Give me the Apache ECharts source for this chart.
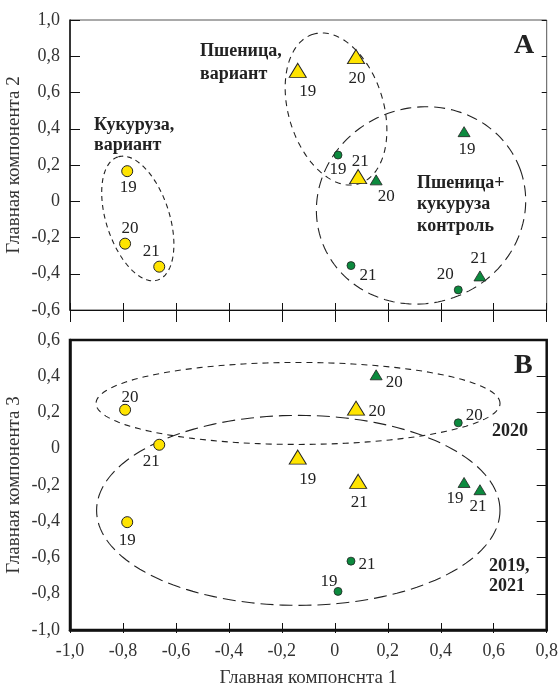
<!DOCTYPE html>
<html>
<head>
<meta charset="utf-8">
<script src="https://cdn.jsdelivr.net/npm/echarts@6/dist/echarts.min.js"></script>
<style>
html,body{margin:0;padding:0;background:#fff;}
#chart{width:558px;height:686px;}
</style>
</head>
<body>
<div id="chart"></div>
<script>
// ---------- data ----------
const years = ['19', '20', '21'];
// Principal component 1 (shared by both panels)
const maizeVarPC1 = [-0.784, -0.792, -0.663];
const wheatVarPC1 = [-0.140, 0.080, 0.088];
const wheatCtrlPC1 = [0.488, 0.156, 0.548];
const maizeCtrlPC1 = [0.012, 0.466, 0.061];
// Principal component 2 (panel A)
const maizeVarPC2 = [0.166, -0.234, -0.361];
const wheatVarPC2 = [0.722, 0.798, 0.136];
const wheatCtrlPC2 = [0.384, 0.118, -0.412];
const maizeCtrlPC2 = [0.255, -0.489, -0.355];
// Principal component 3 (panel B)
const maizeVarPC3 = [-0.405, 0.215, 0.022];
const wheatVarPC3 = [-0.046, 0.224, -0.180];
const wheatCtrlPC3 = [-0.186, 0.408, -0.226];
const maizeCtrlPC3 = [-0.787, 0.143, -0.620];
// tick labels
const xTickLabels = ['-1,0', '-0,8', '-0,6', '-0,4', '-0,2', '0', '0,2', '0,4', '0,6', '0,8'];
const yTickLabelsA = ['-0,6', '-0,4', '-0,2', '0', '0,2', '0,4', '0,6', '0,8', '1,0'];
const yTickLabelsB = ['-1,0', '-0,8', '-0,6', '-0,4', '-0,2', '0', '0,2', '0,4', '0,6'];
const xTitle = 'Главная компонснта 1';
const yTitleA = 'Главная компонента 2';
const yTitleB = 'Главная компонента 3';

// ---------- styling (label offsets, group outlines) ----------
const offA = {
  maizeVar: [[1, 16], [5, -15], [-8, -15]],
  wheatVar: [[10, 21], [1, 22], [2, -15]],
  wheatCtrl: [[3, 18], [10, 17], [-1, -17]],
  maizeCtrl: [[0, 14], [-13, -15], [17, 10]]
};
const offB = {
  maizeVar: [[0, 18], [5, -12], [-8, 17]],
  wheatVar: [[10, 22], [21, 3], [1, 21]],
  wheatCtrl: [[-9, 16], [18, 8], [-2, 17]],
  maizeCtrl: [[-9, -10], [16, -7], [16, 3]]
};
// outline ellipses: centre (data units), semi-axes (px), angle (deg)
const outlinesA = [[-0.744, -0.095, 64.7, 31.6, 108], [0.0045, 0.509, 78.2, 47.5, 107], [0.3255, -0.023, 105.5, 97.8, 19.6]];
const dashA = [[5, 4], [6, 5], [11, 6]];
const outlinesB = [[-0.139, 0.25, 202, 41, 0], [-0.138, -0.340, 201.7, 95, 0]];
const dashB = [[6, 5], [13, 6]];

const FONT = 'Liberation Serif';
const YELLOW = '#FFE400', GREEN = '#0C8A3E';

function pts(xs, ys, offs) {
  return xs.map((x, i) => ({ name: years[i], value: [x, ys[i]], label: { offset: offs[i] } }));
}
function scatter(name, grid, xs, ys, offs, symbol, size, color, bw) {
  return {
    type: 'scatter', name, xAxisIndex: grid * 2, yAxisIndex: grid * 2,
    symbol, symbolSize: size, z: 5,
    itemStyle: { color, borderColor: '#222', borderWidth: bw, opacity: 1 },
    label: { show: true, position: 'inside', formatter: '{b}', color: '#222', fontFamily: FONT, fontSize: 17 },
    data: pts(xs, ys, offs)
  };
}
function outline(grid, items, dashes) {
  return {
    type: 'custom', xAxisIndex: grid * 2, yAxisIndex: grid * 2, clip: false, z: 2, silent: true,
    data: items,
    renderItem: function (params, api) {
      const c = api.coord([api.value(0), api.value(1)]);
      const a = api.value(2), b = api.value(3), phi = api.value(4) * Math.PI / 180;
      const p = [];
      const n = 160;
      for (let i = 0; i < n; i++) {
        const t = i / n * Math.PI * 2;
        const dx = a * Math.cos(t) * Math.cos(phi) - b * Math.sin(t) * Math.sin(phi);
        const dy = a * Math.cos(t) * Math.sin(phi) + b * Math.sin(t) * Math.cos(phi);
        p.push([c[0] + dx, c[1] - dy]);
      }
      return { type: 'polygon', shape: { points: p }, style: { fill: 'none', stroke: '#222', lineWidth: 1.1, lineDash: dashes[params.dataIndex] } };
    }
  };
}
function fmt(arr, min) { return v => arr[Math.round((v - min) / 0.2)] || ''; }

const gridW = 476.7, gridH = 290;
const axisLabelStyle = { color: '#333', fontFamily: FONT, fontSize: 18 };
const titleStyle = { color: '#333', fontFamily: FONT, fontSize: 19 };

function xAxes(grid, showLabels, tickInside, tickOut, lineW) {
  return [
    {
      type: 'value', gridIndex: grid, position: 'bottom', min: -1, max: 0.8, interval: 0.2,
      axisLine: { show: true, onZero: false, lineStyle: { color: '#111', width: lineW } },
      axisTick: { show: true, inside: true, length: tickInside, lineStyle: { color: '#111', width: 1 } },
      axisLabel: Object.assign({ show: showLabels, margin: 12, formatter: fmt(xTickLabels, -1) }, axisLabelStyle),
      splitLine: { show: false },
      name: showLabels ? xTitle : '', nameLocation: 'middle', nameGap: 39,
      nameTextStyle: titleStyle
    },
    {
      type: 'value', gridIndex: grid, position: 'top', offset: -gridH, min: -1, max: 0.8, interval: 0.2,
      axisLine: { show: false },
      axisTick: { show: true, inside: true, length: tickOut, lineStyle: { color: '#111', width: 1 } },
      axisLabel: { show: false }, splitLine: { show: false }
    }
  ];
}
function yAxes(grid, min, max, labels, tickInside, tickOut, lineW, title) {
  return [
    {
      type: 'value', gridIndex: grid, position: 'left', min, max, interval: 0.2,
      axisLine: { show: true, onZero: false, lineStyle: { color: '#111', width: lineW } },
      axisTick: { show: tickInside > 0, inside: true, length: tickInside, lineStyle: { color: '#111', width: 1 } },
      axisLabel: Object.assign({ show: true, margin: 10, formatter: fmt(labels, min) }, axisLabelStyle),
      splitLine: { show: false },
      name: title, nameLocation: 'middle', nameGap: 46, nameMoveOverlap: false,
      nameTextStyle: titleStyle
    },
    {
      type: 'value', gridIndex: grid, position: 'right', offset: -gridW, min, max, interval: 0.2,
      axisLine: { show: false },
      axisTick: { show: true, inside: true, length: tickOut, lineStyle: { color: '#111', width: 1 } },
      axisLabel: { show: false }, splitLine: { show: false }
    }
  ];
}

const chart = echarts.init(document.getElementById('chart'), null, { renderer: 'canvas' });
const boldText = (left, top, text, lh, size) => ({
  type: 'text', left, top, z: 10,
  style: { text, fill: '#222', font: 'bold ' + (size || 18) + 'px "' + FONT + '"', lineHeight: lh || 20 }
});

chart.setOption({
  animation: false,
  backgroundColor: '#fff',
  grid: [
    { left: 70, top: 20, width: gridW, height: gridH, containLabel: false, outerBoundsMode: 'none', show: true, borderColor: '#555', borderWidth: 1, backgroundColor: 'transparent' },
    { left: 70, top: 340, width: gridW, height: gridH, containLabel: false, outerBoundsMode: 'none', show: true, borderColor: '#111', borderWidth: 2.5, backgroundColor: 'transparent' }
  ],
  xAxis: [].concat(xAxes(0, false, 7, 12, 1), xAxes(1, true, 7, 3, 2.5)),
  yAxis: [].concat(
    yAxes(0, -0.6, 1.0, yTickLabelsA, 10, 5, 1.5, yTitleA),
    yAxes(1, -1.0, 0.6, yTickLabelsB, 0, 10, 2.5, yTitleB)
  ),
  graphic: [
    boldText(514, 31, 'A', 30, 28),
    boldText(514, 351, 'B', 30, 28),
    boldText(200, 40, 'Пшеница,\nвариант', 23),
    boldText(94, 115, 'Кукуруза,\nвариант', 20),
    boldText(417, 172, 'Пшеница+\nкукуруза\nконтроль', 21.7),
    boldText(492, 421, '2020', 20),
    boldText(489, 556, '2019,\n2021', 20.5)
  ],
  series: [
    outline(0, outlinesA, dashA),
    outline(1, outlinesB, dashB),
    scatter('Кукуруза, вариант', 0, maizeVarPC1, maizeVarPC2, offA.maizeVar, 'circle', 11, YELLOW, 1),
    scatter('Пшеница, вариант', 0, wheatVarPC1, wheatVarPC2, offA.wheatVar, 'triangle', [17, 14], YELLOW, 1),
    scatter('Пшеница, контроль', 0, wheatCtrlPC1, wheatCtrlPC2, offA.wheatCtrl, 'triangle', [12, 10], GREEN, 0.8),
    scatter('Кукуруза, контроль', 0, maizeCtrlPC1, maizeCtrlPC2, offA.maizeCtrl, 'circle', 8, GREEN, 0.8),
    scatter('Кукуруза, вариант', 1, maizeVarPC1, maizeVarPC3, offB.maizeVar, 'circle', 11, YELLOW, 1),
    scatter('Пшеница, вариант', 1, wheatVarPC1, wheatVarPC3, offB.wheatVar, 'triangle', [17, 14], YELLOW, 1),
    scatter('Пшеница, контроль', 1, wheatCtrlPC1, wheatCtrlPC3, offB.wheatCtrl, 'triangle', [12, 10], GREEN, 0.8),
    scatter('Кукуруза, контроль', 1, maizeCtrlPC1, maizeCtrlPC3, offB.maizeCtrl, 'circle', 8, GREEN, 0.8)
  ]
});
</script>
</body>
</html>
